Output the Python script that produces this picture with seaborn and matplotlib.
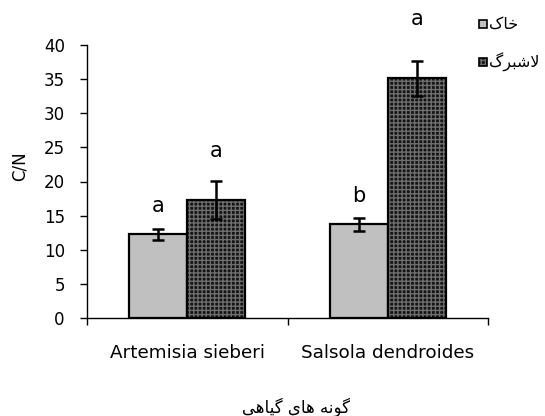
import matplotlib
matplotlib.use("Agg")
import matplotlib.pyplot as plt
from matplotlib.patches import Rectangle
import seaborn as sns
import pandas as pd

# ---- data -------------------------------------------------------------
species = ["Artemisia sieberi", "Salsola dendroides"]
sources = ["خاک", "لاشبرگ"]            # soil, litter
cn_soil = [12.3, 13.7]
cn_litter = [17.3, 35.1]
se_soil = [0.8, 0.9]
se_litter = [2.8, 2.6]
letters_soil = ["a", "b"]
letters_litter = ["a", "a"]
y_ticks = [0, 5, 10, 15, 20, 25, 30, 35, 40]
x_title = "گونه های گیاهی"
y_title = "C/N"

# ---- minimal Persian shaping (matplotlib draws glyphs without shaping) --
FORMS = {  # isolated, final, initial, medial
    "خ": ("\uFEA5", "\uFEA6", "\uFEA7", "\uFEA8"),
    "ا": ("\uFE8D", "\uFE8E"),
    "ک": ("\uFB8E", "\uFB8F", "\uFB90", "\uFB91"),
    "ل": ("\uFEDD", "\uFEDE", "\uFEDF", "\uFEE0"),
    "ش": ("\uFEB5", "\uFEB6", "\uFEB7", "\uFEB8"),
    "ب": ("\uFE8F", "\uFE90", "\uFE91", "\uFE92"),
    "ر": ("\uFEAD", "\uFEAE"),
    "گ": ("\uFB92", "\uFB93", "\uFB94", "\uFB95"),
    "و": ("\uFEED", "\uFEEE"),
    "ن": ("\uFEE5", "\uFEE6", "\uFEE7", "\uFEE8"),
    "ه": ("\uFEE9", "\uFEEA", "\uFEEB", "\uFEEC"),
    "ی": ("\uFBFC", "\uFBFD", "\uFBFE", "\uFBFF"),
}
LAM_ALEF = ("\uFEFB", "\uFEFC")


def shape_rtl(text):
    chars = list(text)
    out = []
    i = 0
    while i < len(chars):
        c = chars[i]
        if c not in FORMS:
            out.append(c)
            i += 1
            continue
        prev = chars[i - 1] if i > 0 else None
        joins_prev = prev in FORMS and len(FORMS[prev]) == 4
        if c == "ل" and i + 1 < len(chars) and chars[i + 1] == "ا":
            out.append(LAM_ALEF[1] if joins_prev else LAM_ALEF[0])
            i += 2
            continue
        nxt = chars[i + 1] if i + 1 < len(chars) else None
        joins_next = len(FORMS[c]) == 4 and nxt in FORMS
        f = FORMS[c]
        if joins_prev and joins_next:
            g = f[3]
        elif joins_prev:
            g = f[1]
        elif joins_next:
            g = f[2]
        else:
            g = f[0]
        out.append(g)
        i += 1
    return "".join(reversed(out))


# ---- figure -------------------------------------------------------------
sns.set_style("white")
plt.rcParams["font.family"] = ["DejaVu Sans"]
plt.rcParams.update({"text.color": "black", "axes.labelcolor": "black",
                     "xtick.color": "black", "ytick.color": "black"})

df = pd.DataFrame({
    "species": species * 2,
    "source": [sources[0]] * 2 + [sources[1]] * 2,
    "cn": cn_soil + cn_litter,
})

W, H = 545, 416
fig = plt.figure(figsize=(W / 100, H / 100), dpi=100)
ax = fig.add_axes([87 / W, 1 - 318 / H, 401 / W, 273 / H])

soil_color = "#c0c0c0"
litter_color = "#141414"
hatch_color = "#6e6e6e"
sns.barplot(data=df, x="species", y="cn", hue="source", order=species,
            hue_order=sources, palette=[soil_color, litter_color],
            width=0.58, gap=0, errorbar=None, legend=False, ax=ax,
            saturation=1, edgecolor="black", linewidth=1.6)

soil_bars = ax.containers[0]
litter_bars = ax.containers[1]

# dotted texture on litter bars, outline redrawn on top
for bar in litter_bars:
    bar.set_hatch("++++")
    bar.set_edgecolor(hatch_color)
    bar.set_linewidth(0)
    ax.add_patch(Rectangle(bar.get_xy(), bar.get_width(), bar.get_height(),
                           fill=False, edgecolor="black", linewidth=1.6,
                           zorder=bar.get_zorder() + 0.1))

# significance letters sit at different heights above each error bar
gap_soil = [2.4, 2.4]
gap_litter = [3.5, 5.2]
for bars, vals, errs, labs, gaps in [
        (soil_bars, cn_soil, se_soil, letters_soil, gap_soil),
        (litter_bars, cn_litter, se_litter, letters_litter, gap_litter)]:
    for bar, v, e, lab, g in zip(bars, vals, errs, labs, gaps):
        xc = bar.get_x() + bar.get_width() / 2
        ax.errorbar(xc, v, yerr=e, fmt="none", ecolor="black",
                    elinewidth=1.8, capsize=4.5, capthick=1.8, zorder=5)
        ax.text(xc, v + e + g, lab, ha="center", va="baseline",
                fontsize=15, color="black")

ax.set_ylim(0, 40)
ax.set_xlim(-0.5, 1.5)
ax.set_yticks(y_ticks)
ax.tick_params(axis="y", direction="out", length=5, width=1, labelsize=12,
               pad=11, left=True)
ax.tick_params(axis="x", which="major", length=0, labelsize=13.2, pad=19)
ax.set_xticks([-0.5, 0.5, 1.5], minor=True)
ax.tick_params(axis="x", which="minor", direction="out", length=5, width=1,
               bottom=True)
sns.despine(ax=ax)
for s in ("left", "bottom"):
    ax.spines[s].set_linewidth(1)
    ax.spines[s].set_color("black")

ax.set_xlabel(shape_rtl(x_title), fontsize=12)
ax.xaxis.set_label_coords(0.52, -0.29)
ax.set_ylabel(y_title, fontsize=12)
ax.yaxis.set_label_coords(-0.145, 0.555)

# legend: small squares with the Persian labels to their right
legend_rows = [24, 62]
for src, yc, face in zip(sources, legend_rows, [soil_color, litter_color]):
    sq = Rectangle((479 / W, 1 - (yc + 4) / H), 8 / W, 8 / H,
                   transform=fig.transFigure, facecolor=face,
                   edgecolor="black", linewidth=1.2)
    if face == litter_color:
        sq.set_hatch("++++")
        sq.set_edgecolor(hatch_color)
        sq.set_linewidth(0)
        fig.patches.append(sq)
        fig.patches.append(Rectangle((479 / W, 1 - (yc + 4) / H), 8 / W,
                                     8 / H, transform=fig.transFigure,
                                     fill=False, edgecolor="black",
                                     linewidth=1.2))
    else:
        fig.patches.append(sq)
    fig.text(489 / W, 1 - yc / H, shape_rtl(src), ha="left", va="center",
             fontsize=11.5)

fig.savefig("out.png", dpi=100)
